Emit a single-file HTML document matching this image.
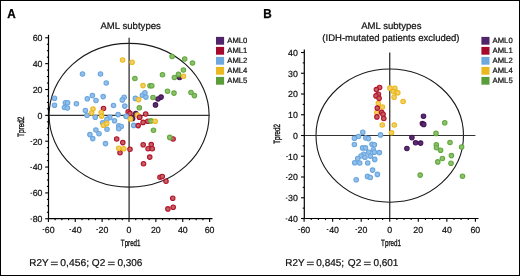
<!DOCTYPE html>
<html><head><meta charset="utf-8"><style>
html,body{margin:0;padding:0;background:#fff;}
body{width:520px;height:276px;overflow:hidden;}
svg{display:block;will-change:transform;}
text{font-family:"Liberation Sans",sans-serif;fill:#111;text-rendering:geometricPrecision;stroke:#111;stroke-width:0.22px;}
.tl{font-size:8.8px;}
.lg{font-size:7.7px;}
.tt{font-size:9.6px;}
.pl{font-size:13px;font-weight:bold;fill:#000;stroke:#000;stroke-width:0.3px;}
.ax{font-size:9.2px;stroke:#111;stroke-width:0.35px;}
.rq{font-size:10.0px;}
</style></head><body>
<svg width="520" height="276" viewBox="0 0 520 276">
<rect x="0" y="0" width="520" height="276" fill="#fff"/>
<ellipse cx="129.1" cy="115.25" rx="80" ry="71.85" fill="none" stroke="#1a1a1a" stroke-width="1.1"/>
<line x1="48.5" y1="115.4" x2="209.60" y2="115.4" stroke="#333" stroke-width="1.2"/>
<line x1="129.1" y1="37.80" x2="129.1" y2="218.65" stroke="#222" stroke-width="1.2"/>
<circle cx="161.1" cy="97.1" r="2.25" fill="#5a2d6e" stroke="#451458" stroke-width="1.1"/>
<circle cx="158" cy="99" r="2.25" fill="#5a2d6e" stroke="#451458" stroke-width="1.1"/>
<circle cx="155.5" cy="104.9" r="2.25" fill="#5a2d6e" stroke="#451458" stroke-width="1.1"/>
<circle cx="135.8" cy="113.5" r="2.25" fill="#5a2d6e" stroke="#451458" stroke-width="1.1"/>
<circle cx="132.6" cy="118.4" r="2.25" fill="#5a2d6e" stroke="#451458" stroke-width="1.1"/>
<circle cx="179.6" cy="77.5" r="2.25" fill="#5a2d6e" stroke="#451458" stroke-width="1.1"/>
<circle cx="82.5" cy="74" r="2.25" fill="#93bfe9" stroke="#6aa6df" stroke-width="1.1"/>
<circle cx="100.5" cy="74" r="2.25" fill="#93bfe9" stroke="#6aa6df" stroke-width="1.1"/>
<circle cx="106.25" cy="83" r="2.25" fill="#93bfe9" stroke="#6aa6df" stroke-width="1.1"/>
<circle cx="54.5" cy="98.3" r="2.25" fill="#93bfe9" stroke="#6aa6df" stroke-width="1.1"/>
<circle cx="54.5" cy="105.3" r="2.25" fill="#93bfe9" stroke="#6aa6df" stroke-width="1.1"/>
<circle cx="65.4" cy="102.8" r="2.25" fill="#93bfe9" stroke="#6aa6df" stroke-width="1.1"/>
<circle cx="67.6" cy="102.8" r="2.25" fill="#93bfe9" stroke="#6aa6df" stroke-width="1.1"/>
<circle cx="64.5" cy="107.5" r="2.25" fill="#93bfe9" stroke="#6aa6df" stroke-width="1.1"/>
<circle cx="67.4" cy="108" r="2.25" fill="#93bfe9" stroke="#6aa6df" stroke-width="1.1"/>
<circle cx="76.4" cy="103.75" r="2.25" fill="#93bfe9" stroke="#6aa6df" stroke-width="1.1"/>
<circle cx="87.3" cy="98.8" r="2.25" fill="#93bfe9" stroke="#6aa6df" stroke-width="1.1"/>
<circle cx="92.4" cy="95.6" r="2.25" fill="#93bfe9" stroke="#6aa6df" stroke-width="1.1"/>
<circle cx="96" cy="100.5" r="2.25" fill="#93bfe9" stroke="#6aa6df" stroke-width="1.1"/>
<circle cx="103.2" cy="96.6" r="2.25" fill="#93bfe9" stroke="#6aa6df" stroke-width="1.1"/>
<circle cx="85.4" cy="110.5" r="2.25" fill="#93bfe9" stroke="#6aa6df" stroke-width="1.1"/>
<circle cx="87" cy="115.3" r="2.25" fill="#93bfe9" stroke="#6aa6df" stroke-width="1.1"/>
<circle cx="95.25" cy="117.2" r="2.25" fill="#93bfe9" stroke="#6aa6df" stroke-width="1.1"/>
<circle cx="113.5" cy="105.5" r="2.25" fill="#93bfe9" stroke="#6aa6df" stroke-width="1.1"/>
<circle cx="124.2" cy="97.2" r="2.25" fill="#93bfe9" stroke="#6aa6df" stroke-width="1.1"/>
<circle cx="122.3" cy="99.9" r="2.25" fill="#93bfe9" stroke="#6aa6df" stroke-width="1.1"/>
<circle cx="124.8" cy="106.1" r="2.25" fill="#93bfe9" stroke="#6aa6df" stroke-width="1.1"/>
<circle cx="135.4" cy="98.4" r="2.25" fill="#93bfe9" stroke="#6aa6df" stroke-width="1.1"/>
<circle cx="142.4" cy="95.25" r="2.25" fill="#93bfe9" stroke="#6aa6df" stroke-width="1.1"/>
<circle cx="144.9" cy="92.75" r="2.25" fill="#93bfe9" stroke="#6aa6df" stroke-width="1.1"/>
<circle cx="145.9" cy="97.1" r="2.25" fill="#93bfe9" stroke="#6aa6df" stroke-width="1.1"/>
<circle cx="118.1" cy="114.6" r="2.25" fill="#93bfe9" stroke="#6aa6df" stroke-width="1.1"/>
<circle cx="109.8" cy="117.4" r="2.25" fill="#93bfe9" stroke="#6aa6df" stroke-width="1.1"/>
<circle cx="106.9" cy="119.2" r="2.25" fill="#93bfe9" stroke="#6aa6df" stroke-width="1.1"/>
<circle cx="114.5" cy="120.8" r="2.25" fill="#93bfe9" stroke="#6aa6df" stroke-width="1.1"/>
<circle cx="126.2" cy="116.5" r="2.25" fill="#93bfe9" stroke="#6aa6df" stroke-width="1.1"/>
<circle cx="102.7" cy="122.7" r="2.25" fill="#93bfe9" stroke="#6aa6df" stroke-width="1.1"/>
<circle cx="133.7" cy="125.4" r="2.25" fill="#93bfe9" stroke="#6aa6df" stroke-width="1.1"/>
<circle cx="107" cy="129.25" r="2.25" fill="#93bfe9" stroke="#6aa6df" stroke-width="1.1"/>
<circle cx="95.9" cy="130" r="2.25" fill="#93bfe9" stroke="#6aa6df" stroke-width="1.1"/>
<circle cx="99" cy="133.75" r="2.25" fill="#93bfe9" stroke="#6aa6df" stroke-width="1.1"/>
<circle cx="89.9" cy="134.6" r="2.25" fill="#93bfe9" stroke="#6aa6df" stroke-width="1.1"/>
<circle cx="92.75" cy="138.6" r="2.25" fill="#93bfe9" stroke="#6aa6df" stroke-width="1.1"/>
<circle cx="105.5" cy="143.6" r="2.25" fill="#93bfe9" stroke="#6aa6df" stroke-width="1.1"/>
<circle cx="118.75" cy="125.9" r="2.25" fill="#93bfe9" stroke="#6aa6df" stroke-width="1.1"/>
<circle cx="121.25" cy="126.5" r="2.25" fill="#93bfe9" stroke="#6aa6df" stroke-width="1.1"/>
<circle cx="118.75" cy="128.75" r="2.25" fill="#93bfe9" stroke="#6aa6df" stroke-width="1.1"/>
<circle cx="103.5" cy="108.5" r="2.25" fill="#c4625c" stroke="#b3122f" stroke-width="1.1"/>
<circle cx="128.2" cy="111.9" r="2.25" fill="#c4625c" stroke="#b3122f" stroke-width="1.1"/>
<circle cx="139.6" cy="117.3" r="2.25" fill="#c4625c" stroke="#b3122f" stroke-width="1.1"/>
<circle cx="145.7" cy="114" r="2.25" fill="#c4625c" stroke="#b3122f" stroke-width="1.1"/>
<circle cx="143.1" cy="122.4" r="2.25" fill="#c4625c" stroke="#b3122f" stroke-width="1.1"/>
<circle cx="147.8" cy="121.3" r="2.25" fill="#c4625c" stroke="#b3122f" stroke-width="1.1"/>
<circle cx="138.2" cy="125.6" r="2.25" fill="#c4625c" stroke="#b3122f" stroke-width="1.1"/>
<circle cx="116.7" cy="139" r="2.25" fill="#c4625c" stroke="#b3122f" stroke-width="1.1"/>
<circle cx="122.8" cy="142.6" r="2.25" fill="#c4625c" stroke="#b3122f" stroke-width="1.1"/>
<circle cx="143.2" cy="144.8" r="2.25" fill="#c4625c" stroke="#b3122f" stroke-width="1.1"/>
<circle cx="151.25" cy="144.6" r="2.25" fill="#c4625c" stroke="#b3122f" stroke-width="1.1"/>
<circle cx="130" cy="149.25" r="2.25" fill="#c4625c" stroke="#b3122f" stroke-width="1.1"/>
<circle cx="120" cy="152.75" r="2.25" fill="#c4625c" stroke="#b3122f" stroke-width="1.1"/>
<circle cx="148.1" cy="148.75" r="2.25" fill="#c4625c" stroke="#b3122f" stroke-width="1.1"/>
<circle cx="152.25" cy="148.75" r="2.25" fill="#c4625c" stroke="#b3122f" stroke-width="1.1"/>
<circle cx="149.75" cy="157.1" r="2.25" fill="#c4625c" stroke="#b3122f" stroke-width="1.1"/>
<circle cx="143.5" cy="163.75" r="2.25" fill="#c4625c" stroke="#b3122f" stroke-width="1.1"/>
<circle cx="160" cy="177.25" r="2.25" fill="#c4625c" stroke="#b3122f" stroke-width="1.1"/>
<circle cx="162.25" cy="176.5" r="2.25" fill="#c4625c" stroke="#b3122f" stroke-width="1.1"/>
<circle cx="166" cy="181.25" r="2.25" fill="#c4625c" stroke="#b3122f" stroke-width="1.1"/>
<circle cx="172.75" cy="198.3" r="2.25" fill="#c4625c" stroke="#b3122f" stroke-width="1.1"/>
<circle cx="173.2" cy="207.3" r="2.25" fill="#c4625c" stroke="#b3122f" stroke-width="1.1"/>
<circle cx="167.9" cy="208.9" r="2.25" fill="#c4625c" stroke="#b3122f" stroke-width="1.1"/>
<circle cx="173.1" cy="139" r="2.25" fill="#c4625c" stroke="#b3122f" stroke-width="1.1"/>
<circle cx="172.1" cy="56.5" r="2.25" fill="#8cc06c" stroke="#64a93e" stroke-width="1.1"/>
<circle cx="184.7" cy="59" r="2.25" fill="#8cc06c" stroke="#64a93e" stroke-width="1.1"/>
<circle cx="192.5" cy="63" r="2.25" fill="#8cc06c" stroke="#64a93e" stroke-width="1.1"/>
<circle cx="183.4" cy="70" r="2.25" fill="#8cc06c" stroke="#64a93e" stroke-width="1.1"/>
<circle cx="162.5" cy="74.75" r="2.25" fill="#8cc06c" stroke="#64a93e" stroke-width="1.1"/>
<circle cx="178.5" cy="74.4" r="2.25" fill="#8cc06c" stroke="#64a93e" stroke-width="1.1"/>
<circle cx="174.4" cy="77.5" r="2.25" fill="#8cc06c" stroke="#64a93e" stroke-width="1.1"/>
<circle cx="134.9" cy="78.5" r="2.25" fill="#8cc06c" stroke="#64a93e" stroke-width="1.1"/>
<circle cx="150" cy="85.7" r="2.25" fill="#8cc06c" stroke="#64a93e" stroke-width="1.1"/>
<circle cx="151.8" cy="85.7" r="2.25" fill="#8cc06c" stroke="#64a93e" stroke-width="1.1"/>
<circle cx="167.5" cy="91.25" r="2.25" fill="#8cc06c" stroke="#64a93e" stroke-width="1.1"/>
<circle cx="174" cy="93.1" r="2.25" fill="#8cc06c" stroke="#64a93e" stroke-width="1.1"/>
<circle cx="191" cy="92.5" r="2.25" fill="#8cc06c" stroke="#64a93e" stroke-width="1.1"/>
<circle cx="194.4" cy="95.6" r="2.25" fill="#8cc06c" stroke="#64a93e" stroke-width="1.1"/>
<circle cx="153" cy="97.5" r="2.25" fill="#8cc06c" stroke="#64a93e" stroke-width="1.1"/>
<circle cx="139.3" cy="107.8" r="2.25" fill="#8cc06c" stroke="#64a93e" stroke-width="1.1"/>
<circle cx="150.9" cy="120.9" r="2.25" fill="#8cc06c" stroke="#64a93e" stroke-width="1.1"/>
<circle cx="153.5" cy="130.25" r="2.25" fill="#8cc06c" stroke="#64a93e" stroke-width="1.1"/>
<circle cx="169.75" cy="137.4" r="2.25" fill="#8cc06c" stroke="#64a93e" stroke-width="1.1"/>
<circle cx="122.6" cy="60" r="2.25" fill="#f2cf68" stroke="#ebb91c" stroke-width="1.1"/>
<circle cx="132.1" cy="62.2" r="2.25" fill="#f2cf68" stroke="#ebb91c" stroke-width="1.1"/>
<circle cx="143" cy="85.6" r="2.25" fill="#f2cf68" stroke="#ebb91c" stroke-width="1.1"/>
<circle cx="138.6" cy="99.6" r="2.25" fill="#f2cf68" stroke="#ebb91c" stroke-width="1.1"/>
<circle cx="93" cy="109" r="2.25" fill="#f2cf68" stroke="#ebb91c" stroke-width="1.1"/>
<circle cx="91.6" cy="113" r="2.25" fill="#f2cf68" stroke="#ebb91c" stroke-width="1.1"/>
<circle cx="101.2" cy="112.5" r="2.25" fill="#f2cf68" stroke="#ebb91c" stroke-width="1.1"/>
<circle cx="101.6" cy="116.1" r="2.25" fill="#f2cf68" stroke="#ebb91c" stroke-width="1.1"/>
<circle cx="103.4" cy="125.2" r="2.25" fill="#f2cf68" stroke="#ebb91c" stroke-width="1.1"/>
<circle cx="106.7" cy="123.4" r="2.25" fill="#f2cf68" stroke="#ebb91c" stroke-width="1.1"/>
<circle cx="130.4" cy="118.8" r="2.25" fill="#f2cf68" stroke="#ebb91c" stroke-width="1.1"/>
<circle cx="137.3" cy="115.0" r="2.25" fill="#f2cf68" stroke="#ebb91c" stroke-width="1.1"/>
<circle cx="155.2" cy="121.3" r="2.25" fill="#f2cf68" stroke="#ebb91c" stroke-width="1.1"/>
<circle cx="183.5" cy="76.25" r="2.25" fill="#f2cf68" stroke="#ebb91c" stroke-width="1.1"/>
<circle cx="118.75" cy="148.3" r="2.25" fill="#f2cf68" stroke="#ebb91c" stroke-width="1.1"/>
<circle cx="123.75" cy="148.7" r="2.25" fill="#f2cf68" stroke="#ebb91c" stroke-width="1.1"/>
<circle cx="130.0" cy="113.4" r="2.25" fill="#c4625c" stroke="#b3122f" stroke-width="1.1"/>
<circle cx="126.3" cy="116.3" r="2.25" fill="#93bfe9" stroke="#6aa6df" stroke-width="1.1"/>
<circle cx="130.4" cy="119.0" r="2.25" fill="#f2cf68" stroke="#ebb91c" stroke-width="1.1"/>
<circle cx="139.6" cy="117.3" r="2.25" fill="#c4625c" stroke="#b3122f" stroke-width="1.1"/>
<line x1="48.5" y1="34.8" x2="48.5" y2="218.65" stroke="#000" stroke-width="1.2"/>
<line x1="48.5" y1="218.65" x2="212.5" y2="218.65" stroke="#000" stroke-width="1.2"/>
<line x1="45.20" y1="218.75" x2="48.5" y2="218.75" stroke="#000" stroke-width="1.1"/>
<text x="32.66" y="222.05" class="tl">80</text><rect x="30.44" y="218.62" width="1.7" height="0.85" fill="#111"/>
<line x1="46.90" y1="212.29" x2="48.5" y2="212.29" stroke="#000" stroke-width="1.1"/>
<line x1="46.90" y1="205.82" x2="48.5" y2="205.82" stroke="#000" stroke-width="1.1"/>
<line x1="46.90" y1="199.36" x2="48.5" y2="199.36" stroke="#000" stroke-width="1.1"/>
<line x1="45.20" y1="192.90" x2="48.5" y2="192.90" stroke="#000" stroke-width="1.1"/>
<text x="32.66" y="196.20" class="tl">60</text><rect x="30.50" y="192.77" width="1.7" height="0.85" fill="#111"/>
<line x1="46.90" y1="186.44" x2="48.5" y2="186.44" stroke="#000" stroke-width="1.1"/>
<line x1="46.90" y1="179.97" x2="48.5" y2="179.97" stroke="#000" stroke-width="1.1"/>
<line x1="46.90" y1="173.51" x2="48.5" y2="173.51" stroke="#000" stroke-width="1.1"/>
<line x1="45.20" y1="167.05" x2="48.5" y2="167.05" stroke="#000" stroke-width="1.1"/>
<text x="32.66" y="170.35" class="tl">40</text><rect x="30.26" y="166.92" width="1.7" height="0.85" fill="#111"/>
<line x1="46.90" y1="160.59" x2="48.5" y2="160.59" stroke="#000" stroke-width="1.1"/>
<line x1="46.90" y1="154.12" x2="48.5" y2="154.12" stroke="#000" stroke-width="1.1"/>
<line x1="46.90" y1="147.66" x2="48.5" y2="147.66" stroke="#000" stroke-width="1.1"/>
<line x1="45.20" y1="141.20" x2="48.5" y2="141.20" stroke="#000" stroke-width="1.1"/>
<text x="32.66" y="144.50" class="tl">20</text><rect x="30.50" y="141.07" width="1.7" height="0.85" fill="#111"/>
<line x1="46.90" y1="134.74" x2="48.5" y2="134.74" stroke="#000" stroke-width="1.1"/>
<line x1="46.90" y1="128.28" x2="48.5" y2="128.28" stroke="#000" stroke-width="1.1"/>
<line x1="46.90" y1="121.81" x2="48.5" y2="121.81" stroke="#000" stroke-width="1.1"/>
<line x1="45.20" y1="115.35" x2="48.5" y2="115.35" stroke="#000" stroke-width="1.1"/>
<text x="37.55" y="118.65" class="tl">0</text>
<line x1="46.90" y1="108.89" x2="48.5" y2="108.89" stroke="#000" stroke-width="1.1"/>
<line x1="46.90" y1="102.42" x2="48.5" y2="102.42" stroke="#000" stroke-width="1.1"/>
<line x1="46.90" y1="95.96" x2="48.5" y2="95.96" stroke="#000" stroke-width="1.1"/>
<line x1="45.20" y1="89.50" x2="48.5" y2="89.50" stroke="#000" stroke-width="1.1"/>
<text x="32.66" y="92.80" class="tl">20</text>
<line x1="46.90" y1="83.04" x2="48.5" y2="83.04" stroke="#000" stroke-width="1.1"/>
<line x1="46.90" y1="76.57" x2="48.5" y2="76.57" stroke="#000" stroke-width="1.1"/>
<line x1="46.90" y1="70.11" x2="48.5" y2="70.11" stroke="#000" stroke-width="1.1"/>
<line x1="45.20" y1="63.65" x2="48.5" y2="63.65" stroke="#000" stroke-width="1.1"/>
<text x="32.66" y="66.95" class="tl">40</text>
<line x1="46.90" y1="57.19" x2="48.5" y2="57.19" stroke="#000" stroke-width="1.1"/>
<line x1="46.90" y1="50.72" x2="48.5" y2="50.72" stroke="#000" stroke-width="1.1"/>
<line x1="46.90" y1="44.26" x2="48.5" y2="44.26" stroke="#000" stroke-width="1.1"/>
<line x1="45.20" y1="37.80" x2="48.5" y2="37.80" stroke="#000" stroke-width="1.1"/>
<text x="32.66" y="41.10" class="tl">60</text>
<line x1="48.40" y1="218.65" x2="48.40" y2="221.95" stroke="#000" stroke-width="1.1"/>
<rect x="42.60" y="229.07" width="1.7" height="0.85" fill="#111"/><text x="44.76" y="232.50" class="tl">60</text>
<line x1="55.12" y1="218.65" x2="55.12" y2="220.25" stroke="#000" stroke-width="1.1"/>
<line x1="61.84" y1="218.65" x2="61.84" y2="220.25" stroke="#000" stroke-width="1.1"/>
<line x1="68.55" y1="218.65" x2="68.55" y2="220.25" stroke="#000" stroke-width="1.1"/>
<line x1="75.27" y1="218.65" x2="75.27" y2="221.95" stroke="#000" stroke-width="1.1"/>
<rect x="69.35" y="229.07" width="1.7" height="0.85" fill="#111"/><text x="71.74" y="232.50" class="tl">40</text>
<line x1="81.98" y1="218.65" x2="81.98" y2="220.25" stroke="#000" stroke-width="1.1"/>
<line x1="88.70" y1="218.65" x2="88.70" y2="220.25" stroke="#000" stroke-width="1.1"/>
<line x1="95.42" y1="218.65" x2="95.42" y2="220.25" stroke="#000" stroke-width="1.1"/>
<line x1="102.13" y1="218.65" x2="102.13" y2="221.95" stroke="#000" stroke-width="1.1"/>
<rect x="96.33" y="229.07" width="1.7" height="0.85" fill="#111"/><text x="98.49" y="232.50" class="tl">20</text>
<line x1="108.85" y1="218.65" x2="108.85" y2="220.25" stroke="#000" stroke-width="1.1"/>
<line x1="115.57" y1="218.65" x2="115.57" y2="220.25" stroke="#000" stroke-width="1.1"/>
<line x1="122.28" y1="218.65" x2="122.28" y2="220.25" stroke="#000" stroke-width="1.1"/>
<line x1="129.00" y1="218.65" x2="129.00" y2="221.95" stroke="#000" stroke-width="1.1"/>
<text x="126.55" y="232.50" class="tl">0</text>
<line x1="135.72" y1="218.65" x2="135.72" y2="220.25" stroke="#000" stroke-width="1.1"/>
<line x1="142.43" y1="218.65" x2="142.43" y2="220.25" stroke="#000" stroke-width="1.1"/>
<line x1="149.15" y1="218.65" x2="149.15" y2="220.25" stroke="#000" stroke-width="1.1"/>
<line x1="155.87" y1="218.65" x2="155.87" y2="221.95" stroke="#000" stroke-width="1.1"/>
<text x="150.92" y="232.50" class="tl">20</text>
<line x1="162.58" y1="218.65" x2="162.58" y2="220.25" stroke="#000" stroke-width="1.1"/>
<line x1="169.30" y1="218.65" x2="169.30" y2="220.25" stroke="#000" stroke-width="1.1"/>
<line x1="176.02" y1="218.65" x2="176.02" y2="220.25" stroke="#000" stroke-width="1.1"/>
<line x1="182.73" y1="218.65" x2="182.73" y2="221.95" stroke="#000" stroke-width="1.1"/>
<text x="177.91" y="232.50" class="tl">40</text>
<line x1="189.45" y1="218.65" x2="189.45" y2="220.25" stroke="#000" stroke-width="1.1"/>
<line x1="196.16" y1="218.65" x2="196.16" y2="220.25" stroke="#000" stroke-width="1.1"/>
<line x1="202.88" y1="218.65" x2="202.88" y2="220.25" stroke="#000" stroke-width="1.1"/>
<line x1="209.60" y1="218.65" x2="209.60" y2="221.95" stroke="#000" stroke-width="1.1"/>
<text x="204.65" y="232.50" class="tl">60</text>
<ellipse cx="389.75" cy="135.6" rx="73.75" ry="66.6" fill="none" stroke="#1a1a1a" stroke-width="1.1"/>
<line x1="304.3" y1="135.5" x2="475.40" y2="135.5" stroke="#333" stroke-width="1.2"/>
<line x1="389.75" y1="52.50" x2="389.75" y2="218.5" stroke="#222" stroke-width="1.2"/>
<circle cx="423.5" cy="116.25" r="2.25" fill="#5a2d6e" stroke="#451458" stroke-width="1.1"/>
<circle cx="422.4" cy="123.6" r="2.25" fill="#5a2d6e" stroke="#451458" stroke-width="1.1"/>
<circle cx="423.75" cy="124.4" r="2.25" fill="#5a2d6e" stroke="#451458" stroke-width="1.1"/>
<circle cx="411.9" cy="137.6" r="2.25" fill="#5a2d6e" stroke="#451458" stroke-width="1.1"/>
<circle cx="415.6" cy="142.75" r="2.25" fill="#5a2d6e" stroke="#451458" stroke-width="1.1"/>
<circle cx="420.6" cy="143.1" r="2.25" fill="#5a2d6e" stroke="#451458" stroke-width="1.1"/>
<circle cx="406.9" cy="148.5" r="2.25" fill="#5a2d6e" stroke="#451458" stroke-width="1.1"/>
<circle cx="362.8" cy="132.2" r="2.25" fill="#93bfe9" stroke="#6aa6df" stroke-width="1.1"/>
<circle cx="358.5" cy="136.5" r="2.25" fill="#93bfe9" stroke="#6aa6df" stroke-width="1.1"/>
<circle cx="354.4" cy="138.2" r="2.25" fill="#93bfe9" stroke="#6aa6df" stroke-width="1.1"/>
<circle cx="365.8" cy="138" r="2.25" fill="#93bfe9" stroke="#6aa6df" stroke-width="1.1"/>
<circle cx="368.5" cy="138.6" r="2.25" fill="#93bfe9" stroke="#6aa6df" stroke-width="1.1"/>
<circle cx="380.5" cy="134.9" r="2.25" fill="#93bfe9" stroke="#6aa6df" stroke-width="1.1"/>
<circle cx="354.4" cy="144.5" r="2.25" fill="#93bfe9" stroke="#6aa6df" stroke-width="1.1"/>
<circle cx="372" cy="144.2" r="2.25" fill="#93bfe9" stroke="#6aa6df" stroke-width="1.1"/>
<circle cx="374.4" cy="144.8" r="2.25" fill="#93bfe9" stroke="#6aa6df" stroke-width="1.1"/>
<circle cx="362.6" cy="147.9" r="2.25" fill="#93bfe9" stroke="#6aa6df" stroke-width="1.1"/>
<circle cx="365.5" cy="147.9" r="2.25" fill="#93bfe9" stroke="#6aa6df" stroke-width="1.1"/>
<circle cx="373.3" cy="149.8" r="2.25" fill="#93bfe9" stroke="#6aa6df" stroke-width="1.1"/>
<circle cx="368.7" cy="152.2" r="2.25" fill="#93bfe9" stroke="#6aa6df" stroke-width="1.1"/>
<circle cx="374.4" cy="152.3" r="2.25" fill="#93bfe9" stroke="#6aa6df" stroke-width="1.1"/>
<circle cx="379.4" cy="152.6" r="2.25" fill="#93bfe9" stroke="#6aa6df" stroke-width="1.1"/>
<circle cx="363.6" cy="154.2" r="2.25" fill="#93bfe9" stroke="#6aa6df" stroke-width="1.1"/>
<circle cx="361" cy="156" r="2.25" fill="#93bfe9" stroke="#6aa6df" stroke-width="1.1"/>
<circle cx="365" cy="157.2" r="2.25" fill="#93bfe9" stroke="#6aa6df" stroke-width="1.1"/>
<circle cx="370.4" cy="156.1" r="2.25" fill="#93bfe9" stroke="#6aa6df" stroke-width="1.1"/>
<circle cx="357.7" cy="158.5" r="2.25" fill="#93bfe9" stroke="#6aa6df" stroke-width="1.1"/>
<circle cx="374.7" cy="159.4" r="2.25" fill="#93bfe9" stroke="#6aa6df" stroke-width="1.1"/>
<circle cx="354.7" cy="162.8" r="2.25" fill="#93bfe9" stroke="#6aa6df" stroke-width="1.1"/>
<circle cx="359.7" cy="163" r="2.25" fill="#93bfe9" stroke="#6aa6df" stroke-width="1.1"/>
<circle cx="367.7" cy="163" r="2.25" fill="#93bfe9" stroke="#6aa6df" stroke-width="1.1"/>
<circle cx="372.6" cy="170.1" r="2.25" fill="#93bfe9" stroke="#6aa6df" stroke-width="1.1"/>
<circle cx="377.4" cy="174.4" r="2.25" fill="#93bfe9" stroke="#6aa6df" stroke-width="1.1"/>
<circle cx="367.5" cy="176.4" r="2.25" fill="#93bfe9" stroke="#6aa6df" stroke-width="1.1"/>
<circle cx="370.3" cy="177.5" r="2.25" fill="#93bfe9" stroke="#6aa6df" stroke-width="1.1"/>
<circle cx="356.2" cy="179.8" r="2.25" fill="#93bfe9" stroke="#6aa6df" stroke-width="1.1"/>
<circle cx="444.75" cy="122.7" r="2.25" fill="#8cc06c" stroke="#64a93e" stroke-width="1.1"/>
<circle cx="436" cy="133.4" r="2.25" fill="#8cc06c" stroke="#64a93e" stroke-width="1.1"/>
<circle cx="436.3" cy="144.7" r="2.25" fill="#8cc06c" stroke="#64a93e" stroke-width="1.1"/>
<circle cx="436.5" cy="147.75" r="2.25" fill="#8cc06c" stroke="#64a93e" stroke-width="1.1"/>
<circle cx="440.6" cy="150.3" r="2.25" fill="#8cc06c" stroke="#64a93e" stroke-width="1.1"/>
<circle cx="450" cy="142.5" r="2.25" fill="#8cc06c" stroke="#64a93e" stroke-width="1.1"/>
<circle cx="451.4" cy="155.6" r="2.25" fill="#8cc06c" stroke="#64a93e" stroke-width="1.1"/>
<circle cx="442.4" cy="158.5" r="2.25" fill="#8cc06c" stroke="#64a93e" stroke-width="1.1"/>
<circle cx="437.8" cy="161.9" r="2.25" fill="#8cc06c" stroke="#64a93e" stroke-width="1.1"/>
<circle cx="451" cy="163.3" r="2.25" fill="#8cc06c" stroke="#64a93e" stroke-width="1.1"/>
<circle cx="461.6" cy="147" r="2.25" fill="#8cc06c" stroke="#64a93e" stroke-width="1.1"/>
<circle cx="420.2" cy="175.1" r="2.25" fill="#8cc06c" stroke="#64a93e" stroke-width="1.1"/>
<circle cx="462.5" cy="176.25" r="2.25" fill="#8cc06c" stroke="#64a93e" stroke-width="1.1"/>
<circle cx="389.9" cy="88.1" r="2.25" fill="#f2cf68" stroke="#ebb91c" stroke-width="1.1"/>
<circle cx="394.8" cy="88.3" r="2.25" fill="#f2cf68" stroke="#ebb91c" stroke-width="1.1"/>
<circle cx="393.4" cy="91.6" r="2.25" fill="#f2cf68" stroke="#ebb91c" stroke-width="1.1"/>
<circle cx="396.6" cy="92.4" r="2.25" fill="#f2cf68" stroke="#ebb91c" stroke-width="1.1"/>
<circle cx="397.8" cy="92.8" r="2.25" fill="#f2cf68" stroke="#ebb91c" stroke-width="1.1"/>
<circle cx="394.1" cy="97.3" r="2.25" fill="#f2cf68" stroke="#ebb91c" stroke-width="1.1"/>
<circle cx="403.1" cy="101.5" r="2.25" fill="#f2cf68" stroke="#ebb91c" stroke-width="1.1"/>
<circle cx="378.3" cy="103.4" r="2.25" fill="#f2cf68" stroke="#ebb91c" stroke-width="1.1"/>
<circle cx="382.4" cy="107" r="2.25" fill="#f2cf68" stroke="#ebb91c" stroke-width="1.1"/>
<circle cx="376.8" cy="112.5" r="2.25" fill="#f2cf68" stroke="#ebb91c" stroke-width="1.1"/>
<circle cx="382.25" cy="125" r="2.25" fill="#f2cf68" stroke="#ebb91c" stroke-width="1.1"/>
<circle cx="394.3" cy="125" r="2.25" fill="#f2cf68" stroke="#ebb91c" stroke-width="1.1"/>
<circle cx="391.5" cy="132.75" r="2.25" fill="#f2cf68" stroke="#ebb91c" stroke-width="1.1"/>
<circle cx="379.6" cy="87.5" r="2.25" fill="#c4625c" stroke="#b3122f" stroke-width="1.1"/>
<circle cx="376.4" cy="89.6" r="2.25" fill="#c4625c" stroke="#b3122f" stroke-width="1.1"/>
<circle cx="378.4" cy="94.3" r="2.25" fill="#c4625c" stroke="#b3122f" stroke-width="1.1"/>
<circle cx="376" cy="95.9" r="2.25" fill="#c4625c" stroke="#b3122f" stroke-width="1.1"/>
<circle cx="379.1" cy="98.2" r="2.25" fill="#c4625c" stroke="#b3122f" stroke-width="1.1"/>
<circle cx="377.3" cy="108.1" r="2.25" fill="#c4625c" stroke="#b3122f" stroke-width="1.1"/>
<circle cx="381.6" cy="112.4" r="2.25" fill="#c4625c" stroke="#b3122f" stroke-width="1.1"/>
<circle cx="383.1" cy="114.3" r="2.25" fill="#c4625c" stroke="#b3122f" stroke-width="1.1"/>
<circle cx="376.9" cy="116.9" r="2.25" fill="#c4625c" stroke="#b3122f" stroke-width="1.1"/>
<circle cx="383.8" cy="118.5" r="2.25" fill="#c4625c" stroke="#b3122f" stroke-width="1.1"/>
<line x1="304.3" y1="49.4" x2="304.3" y2="218.5" stroke="#000" stroke-width="1.2"/>
<line x1="304.3" y1="218.5" x2="478.5" y2="218.5" stroke="#000" stroke-width="1.2"/>
<line x1="301.00" y1="218.50" x2="304.3" y2="218.50" stroke="#000" stroke-width="1.1"/>
<text x="288.06" y="221.90" class="tl">40</text><rect x="285.66" y="218.47" width="1.7" height="0.85" fill="#111"/>
<line x1="302.70" y1="208.12" x2="304.3" y2="208.12" stroke="#000" stroke-width="1.1"/>
<line x1="301.00" y1="197.75" x2="304.3" y2="197.75" stroke="#000" stroke-width="1.1"/>
<text x="288.06" y="201.15" class="tl">30</text><rect x="285.79" y="197.72" width="1.7" height="0.85" fill="#111"/>
<line x1="302.70" y1="187.38" x2="304.3" y2="187.38" stroke="#000" stroke-width="1.1"/>
<line x1="301.00" y1="177.00" x2="304.3" y2="177.00" stroke="#000" stroke-width="1.1"/>
<text x="288.06" y="180.40" class="tl">20</text><rect x="285.90" y="176.97" width="1.7" height="0.85" fill="#111"/>
<line x1="302.70" y1="166.62" x2="304.3" y2="166.62" stroke="#000" stroke-width="1.1"/>
<line x1="301.00" y1="156.25" x2="304.3" y2="156.25" stroke="#000" stroke-width="1.1"/>
<text x="288.06" y="159.65" class="tl">10</text><rect x="286.13" y="156.22" width="1.7" height="0.85" fill="#111"/>
<line x1="302.70" y1="145.88" x2="304.3" y2="145.88" stroke="#000" stroke-width="1.1"/>
<line x1="301.00" y1="135.50" x2="304.3" y2="135.50" stroke="#000" stroke-width="1.1"/>
<text x="292.95" y="138.90" class="tl">0</text>
<line x1="302.70" y1="125.12" x2="304.3" y2="125.12" stroke="#000" stroke-width="1.1"/>
<line x1="301.00" y1="114.75" x2="304.3" y2="114.75" stroke="#000" stroke-width="1.1"/>
<text x="288.06" y="118.15" class="tl">10</text>
<line x1="302.70" y1="104.38" x2="304.3" y2="104.38" stroke="#000" stroke-width="1.1"/>
<line x1="301.00" y1="94.00" x2="304.3" y2="94.00" stroke="#000" stroke-width="1.1"/>
<text x="288.06" y="97.40" class="tl">20</text>
<line x1="302.70" y1="83.62" x2="304.3" y2="83.62" stroke="#000" stroke-width="1.1"/>
<line x1="301.00" y1="73.25" x2="304.3" y2="73.25" stroke="#000" stroke-width="1.1"/>
<text x="288.06" y="76.65" class="tl">30</text>
<line x1="302.70" y1="62.88" x2="304.3" y2="62.88" stroke="#000" stroke-width="1.1"/>
<line x1="301.00" y1="52.50" x2="304.3" y2="52.50" stroke="#000" stroke-width="1.1"/>
<text x="288.06" y="55.90" class="tl">40</text>
<line x1="304.10" y1="218.5" x2="304.10" y2="221.80" stroke="#000" stroke-width="1.1"/>
<rect x="298.30" y="229.07" width="1.7" height="0.85" fill="#111"/><text x="300.45" y="232.50" class="tl">60</text>
<line x1="311.24" y1="218.5" x2="311.24" y2="220.10" stroke="#000" stroke-width="1.1"/>
<line x1="318.38" y1="218.5" x2="318.38" y2="220.10" stroke="#000" stroke-width="1.1"/>
<line x1="325.51" y1="218.5" x2="325.51" y2="220.10" stroke="#000" stroke-width="1.1"/>
<line x1="332.65" y1="218.5" x2="332.65" y2="221.80" stroke="#000" stroke-width="1.1"/>
<rect x="326.73" y="229.07" width="1.7" height="0.85" fill="#111"/><text x="329.13" y="232.50" class="tl">40</text>
<line x1="339.79" y1="218.5" x2="339.79" y2="220.10" stroke="#000" stroke-width="1.1"/>
<line x1="346.93" y1="218.5" x2="346.93" y2="220.10" stroke="#000" stroke-width="1.1"/>
<line x1="354.06" y1="218.5" x2="354.06" y2="220.10" stroke="#000" stroke-width="1.1"/>
<line x1="361.20" y1="218.5" x2="361.20" y2="221.80" stroke="#000" stroke-width="1.1"/>
<rect x="355.40" y="229.07" width="1.7" height="0.85" fill="#111"/><text x="357.56" y="232.50" class="tl">20</text>
<line x1="368.34" y1="218.5" x2="368.34" y2="220.10" stroke="#000" stroke-width="1.1"/>
<line x1="375.48" y1="218.5" x2="375.48" y2="220.10" stroke="#000" stroke-width="1.1"/>
<line x1="382.61" y1="218.5" x2="382.61" y2="220.10" stroke="#000" stroke-width="1.1"/>
<line x1="389.75" y1="218.5" x2="389.75" y2="221.80" stroke="#000" stroke-width="1.1"/>
<text x="387.30" y="232.50" class="tl">0</text>
<line x1="396.89" y1="218.5" x2="396.89" y2="220.10" stroke="#000" stroke-width="1.1"/>
<line x1="404.02" y1="218.5" x2="404.02" y2="220.10" stroke="#000" stroke-width="1.1"/>
<line x1="411.16" y1="218.5" x2="411.16" y2="220.10" stroke="#000" stroke-width="1.1"/>
<line x1="418.30" y1="218.5" x2="418.30" y2="221.80" stroke="#000" stroke-width="1.1"/>
<text x="413.36" y="232.50" class="tl">20</text>
<line x1="425.44" y1="218.5" x2="425.44" y2="220.10" stroke="#000" stroke-width="1.1"/>
<line x1="432.57" y1="218.5" x2="432.57" y2="220.10" stroke="#000" stroke-width="1.1"/>
<line x1="439.71" y1="218.5" x2="439.71" y2="220.10" stroke="#000" stroke-width="1.1"/>
<line x1="446.85" y1="218.5" x2="446.85" y2="221.80" stroke="#000" stroke-width="1.1"/>
<text x="442.03" y="232.50" class="tl">40</text>
<line x1="453.99" y1="218.5" x2="453.99" y2="220.10" stroke="#000" stroke-width="1.1"/>
<line x1="461.12" y1="218.5" x2="461.12" y2="220.10" stroke="#000" stroke-width="1.1"/>
<line x1="468.26" y1="218.5" x2="468.26" y2="220.10" stroke="#000" stroke-width="1.1"/>
<line x1="475.40" y1="218.5" x2="475.40" y2="221.80" stroke="#000" stroke-width="1.1"/>
<text x="470.45" y="232.50" class="tl">60</text>
<rect x="216" y="36.9" width="8.1" height="7.8" fill="#4f2468"/>
<text x="227.28" y="43.05" class="lg">AML0</text>
<rect x="216" y="46.9" width="8.1" height="7.8" fill="#a6092e"/>
<text x="227.28" y="53.05" class="lg">AML1</text>
<rect x="216" y="56.9" width="8.1" height="7.8" fill="#6da9de"/>
<text x="227.28" y="63.05" class="lg">AML2</text>
<rect x="216" y="66.9" width="8.1" height="7.8" fill="#ebb81f"/>
<text x="227.28" y="73.05" class="lg">AML4</text>
<rect x="216" y="76.9" width="8.1" height="7.8" fill="#5a9e3a"/>
<text x="227.28" y="83.05" class="lg">AML5</text>
<rect x="481.4" y="36.9" width="8.1" height="7.8" fill="#4f2468"/>
<text x="492.58" y="43.05" class="lg">AML0</text>
<rect x="481.4" y="46.9" width="8.1" height="7.8" fill="#a6092e"/>
<text x="492.58" y="53.05" class="lg">AML1</text>
<rect x="481.4" y="56.9" width="8.1" height="7.8" fill="#6da9de"/>
<text x="492.58" y="63.05" class="lg">AML2</text>
<rect x="481.4" y="66.9" width="8.1" height="7.8" fill="#ebb81f"/>
<text x="492.58" y="73.05" class="lg">AML4</text>
<rect x="481.4" y="76.9" width="8.1" height="7.8" fill="#5a9e3a"/>
<text x="492.58" y="83.05" class="lg">AML5</text>
<text transform="translate(7.2,17.7) scale(0.9,1)" class="pl">A</text>
<text transform="translate(263.2,17.5) scale(0.9,1)" class="pl">B</text>
<text transform="translate(100.48,29.10) scale(0.9989,1)" class="tt">AML subtypes</text>
<text transform="translate(361.18,28.90) scale(0.9973,1)" class="tt">AML subtypes</text>
<text transform="translate(322.31,41.10) scale(0.9934,1)" class="tt">(IDH-mutated patients excluded)</text>
<text transform="translate(120.86,245.75) scale(0.6756,1)" class="ax">Tpred1</text>
<text transform="translate(381.11,245.75) scale(0.6791,1)" class="ax">Tpred1</text>
<text transform="translate(24.00,137.05) rotate(-90) scale(0.7022,1)" class="ax">Tpred2</text>
<text transform="translate(279.60,143.74) rotate(-90) scale(0.6794,1)" class="ax">Tpred2</text>
<text transform="translate(29.34,266.00) scale(0.9911,1)" class="rq">R2Y</text>
<rect x="50.9" y="261.75" width="6.90" height="0.9" fill="#111"/><rect x="50.9" y="264.25" width="6.90" height="0.9" fill="#111"/>
<text transform="translate(60.30,266.00) scale(1.0334,1)" class="rq">0,456;</text>
<text transform="translate(91.82,266.00) scale(1.0111,1)" class="rq">Q2</text>
<rect x="107.9" y="261.75" width="6.80" height="0.9" fill="#111"/><rect x="107.9" y="264.25" width="6.80" height="0.9" fill="#111"/>
<text x="117.41" y="266.00" class="rq">0,306</text>
<text transform="translate(285.34,266.00) scale(0.9911,1)" class="rq">R2Y</text>
<rect x="306.9" y="261.75" width="6.90" height="0.9" fill="#111"/><rect x="306.9" y="264.25" width="6.90" height="0.9" fill="#111"/>
<text x="316.31" y="266.00" class="rq">0,845;</text>
<text transform="translate(347.82,266.00) scale(1.0111,1)" class="rq">Q2</text>
<rect x="363.9" y="261.75" width="6.80" height="0.9" fill="#111"/><rect x="363.9" y="264.25" width="6.80" height="0.9" fill="#111"/>
<text x="373.41" y="266.00" class="rq">0,601</text>
<rect x="0.5" y="0.5" width="519" height="275" fill="none" stroke="#000" stroke-width="1"/>
</svg>
</body></html>
